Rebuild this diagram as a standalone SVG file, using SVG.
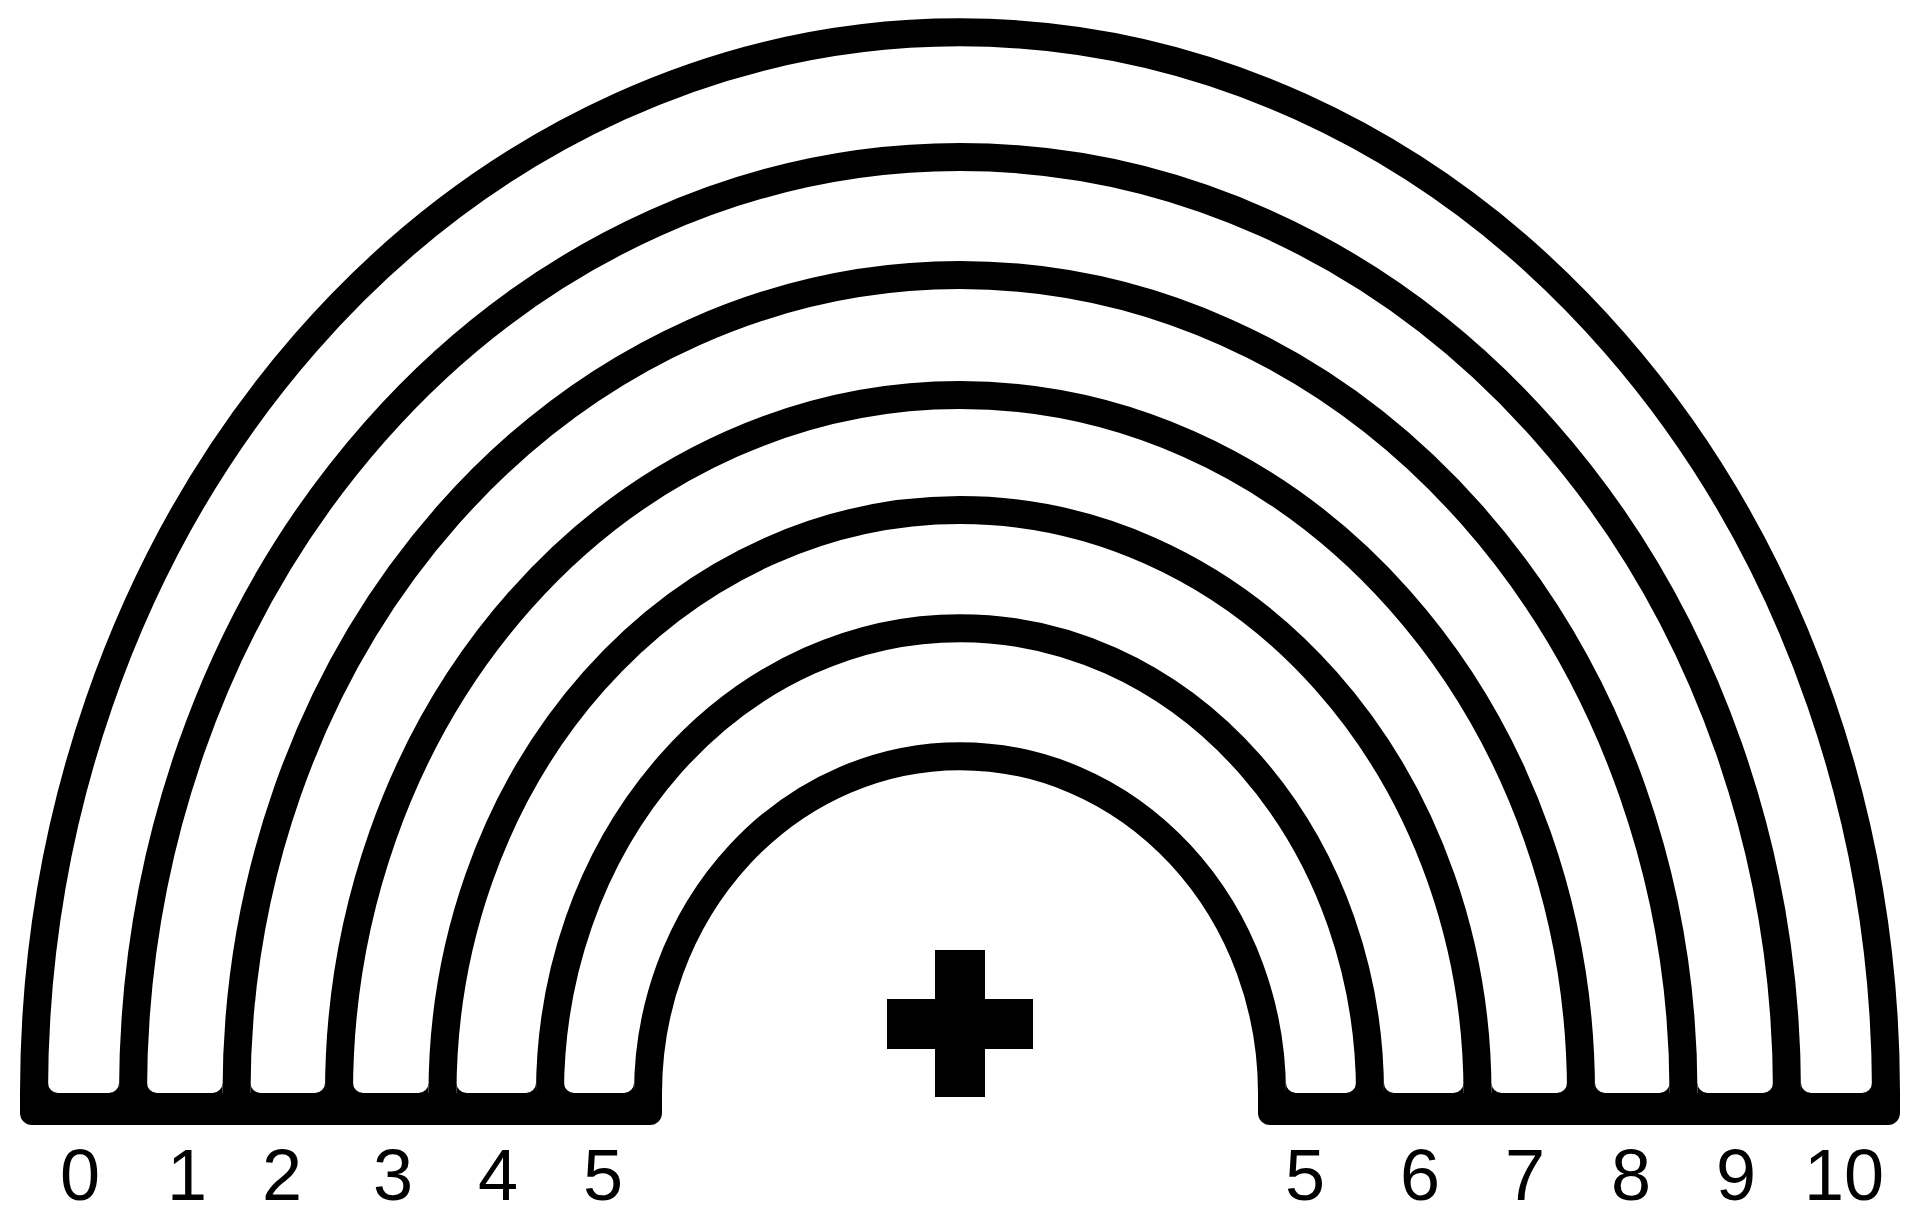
<svg xmlns="http://www.w3.org/2000/svg" xmlns:xlink="http://www.w3.org/1999/xlink" width="1905" height="1217" viewBox="0 0 1905 1217">
  <style>
    .arc { fill: none; stroke: #000; stroke-width: 28; stroke-linecap: butt; }
    .ink { fill: #000; }
    .num { font-family: "Liberation Sans", "DejaVu Sans", sans-serif; font-size: 72px; fill: #000; text-anchor: middle; }
  </style>
  <defs>
    <path id="fillet" d="M0 -10 L0 0 L10 0 A10 10 0 0 1 0 -10 Z" class="ink"/>
  </defs>
  <rect width="1905" height="1217" fill="#fff"/>

  <g id="arcs">
    <path class="arc" d="M34 1100 L34 1093 A926 1061 0 0 1 1886 1093 L1886 1100"/>
    <path class="arc" d="M133 1100 L133 1093 A827 936 0 0 1 1787 1093 L1787 1100"/>
    <path class="arc" d="M236.5 1100 L236.5 1093 A723.5 818 0 0 1 1683.5 1093 L1683.5 1100"/>
    <path class="arc" d="M339 1100 L339 1093 A621 698 0 0 1 1581 1093 L1581 1100"/>
    <path class="arc" d="M442.5 1100 L442.5 1093 A517.5 583 0 0 1 1477.5 1093 L1477.5 1100"/>
    <path class="arc" d="M550 1100 L550 1093 A410 465 0 0 1 1370 1093 L1370 1100"/>
    <path class="arc" d="M648 1100 L648 1093 A312 337 0 0 1 1272 1093 L1272 1100"/>
  </g>

  <g id="base">
    <path class="ink" d="M20 1093 L20 1113 A12 12 0 0 0 32 1125 L650 1125 A12 12 0 0 0 662 1113 L662 1093 Z"/>
    <path class="ink" d="M1258 1093 L1258 1113 A12 12 0 0 0 1270 1125 L1888 1125 A12 12 0 0 0 1900 1113 L1900 1093 Z"/>
  </g>

  <g id="fillets">
    <use xlink:href="#fillet" transform="translate(48 1093)"/>
    <use xlink:href="#fillet" transform="translate(119 1093) scale(-1 1)"/>
    <use xlink:href="#fillet" transform="translate(147 1093)"/>
    <use xlink:href="#fillet" transform="translate(222.5 1093) scale(-1 1)"/>
    <use xlink:href="#fillet" transform="translate(250.5 1093)"/>
    <use xlink:href="#fillet" transform="translate(325 1093) scale(-1 1)"/>
    <use xlink:href="#fillet" transform="translate(353 1093)"/>
    <use xlink:href="#fillet" transform="translate(428.5 1093) scale(-1 1)"/>
    <use xlink:href="#fillet" transform="translate(456.5 1093)"/>
    <use xlink:href="#fillet" transform="translate(536 1093) scale(-1 1)"/>
    <use xlink:href="#fillet" transform="translate(564 1093)"/>
    <use xlink:href="#fillet" transform="translate(634 1093) scale(-1 1)"/>
    <use xlink:href="#fillet" transform="translate(1286 1093)"/>
    <use xlink:href="#fillet" transform="translate(1356 1093) scale(-1 1)"/>
    <use xlink:href="#fillet" transform="translate(1384 1093)"/>
    <use xlink:href="#fillet" transform="translate(1463.5 1093) scale(-1 1)"/>
    <use xlink:href="#fillet" transform="translate(1491.5 1093)"/>
    <use xlink:href="#fillet" transform="translate(1567 1093) scale(-1 1)"/>
    <use xlink:href="#fillet" transform="translate(1595 1093)"/>
    <use xlink:href="#fillet" transform="translate(1669.5 1093) scale(-1 1)"/>
    <use xlink:href="#fillet" transform="translate(1697.5 1093)"/>
    <use xlink:href="#fillet" transform="translate(1773 1093) scale(-1 1)"/>
    <use xlink:href="#fillet" transform="translate(1801 1093)"/>
    <use xlink:href="#fillet" transform="translate(1872 1093) scale(-1 1)"/>
  </g>

  <g id="plus">
    <rect class="ink" x="935" y="950" width="50" height="147"/>
    <rect class="ink" x="887" y="999" width="146" height="50"/>
  </g>

  <g id="labels">
    <text class="num" x="80" y="1200">0</text>
    <text class="num" x="187" y="1200">1</text>
    <text class="num" x="282" y="1200">2</text>
    <text class="num" x="393" y="1200">3</text>
    <text class="num" x="498" y="1200">4</text>
    <text class="num" x="603" y="1200">5</text>
    <text class="num" x="1305" y="1200">5</text>
    <text class="num" x="1420" y="1200">6</text>
    <text class="num" x="1525" y="1200">7</text>
    <text class="num" x="1631" y="1200">8</text>
    <text class="num" x="1736" y="1200">9</text>
    <text class="num" x="1844" y="1200">10</text>
  </g>
</svg>
